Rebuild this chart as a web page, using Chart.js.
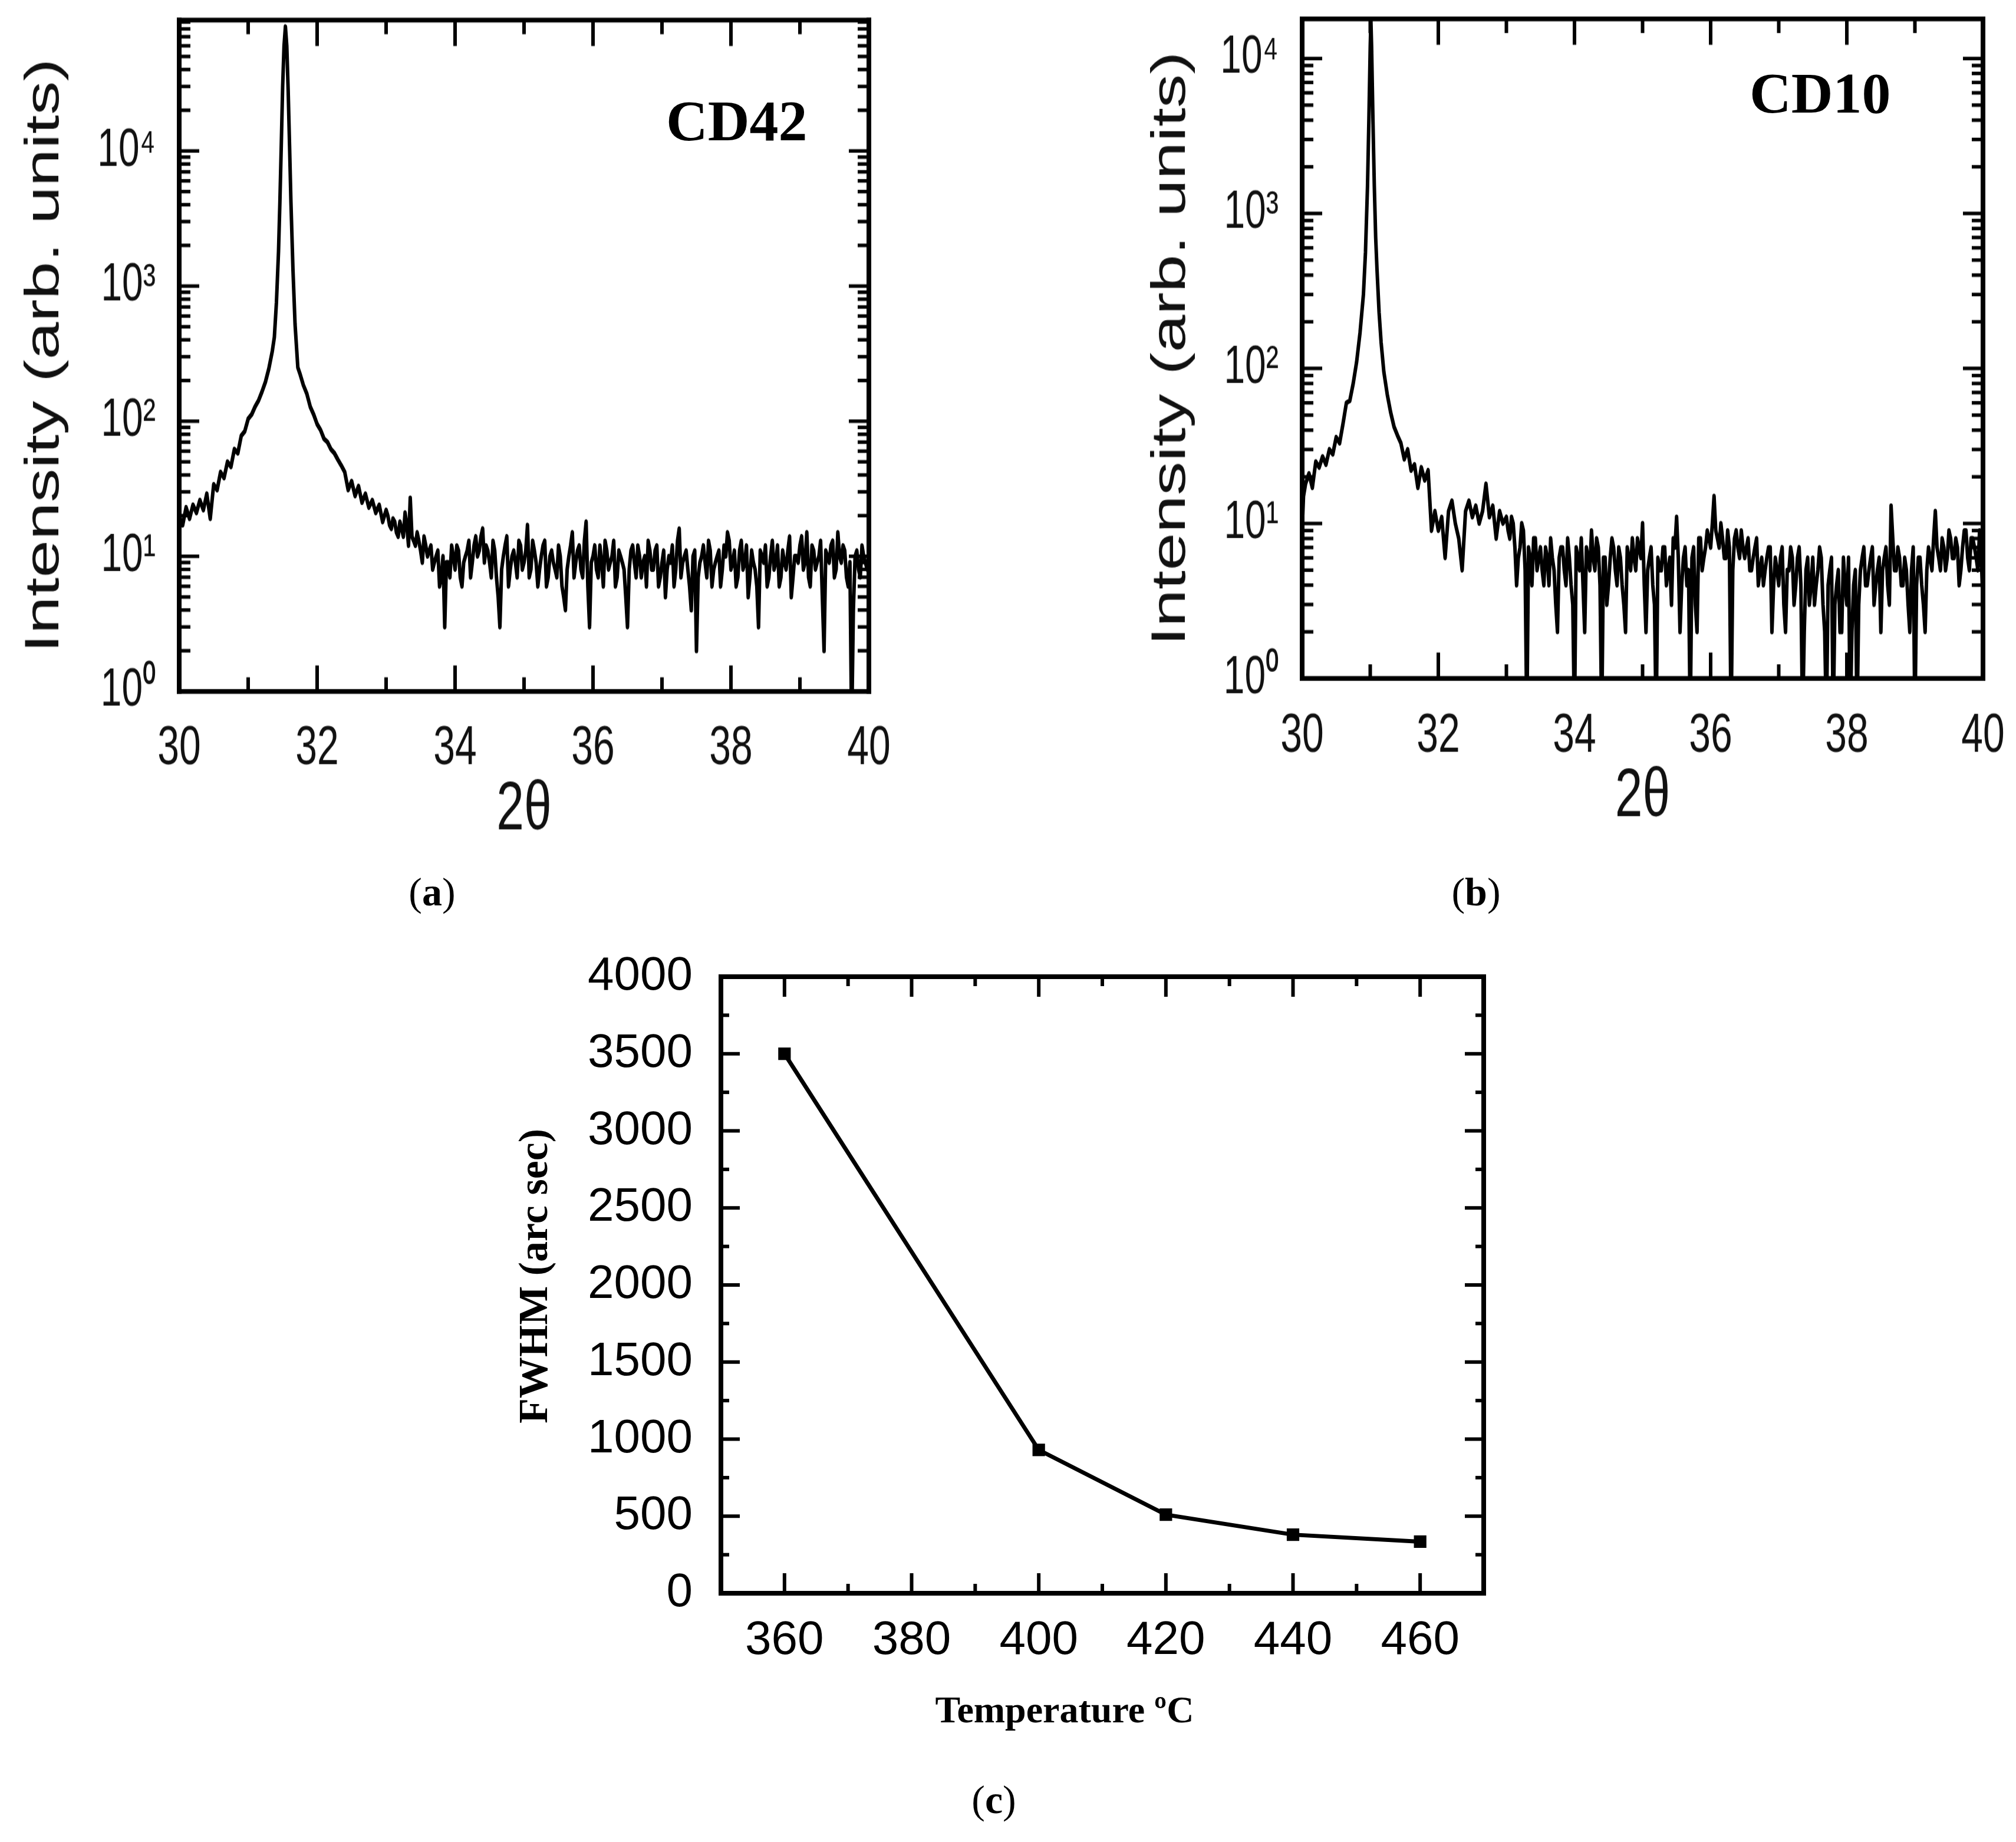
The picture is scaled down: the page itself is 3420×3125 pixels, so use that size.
<!DOCTYPE html>
<html>
<head>
<meta charset="utf-8">
<script src="https://cdn.jsdelivr.net/npm/chart.js@4.4.1/dist/chart.umd.min.js"></script>
<style>
  body { margin: 0; background: #fff; }
  #page { position: relative; width: 3420px; height: 3125px; overflow: hidden; background: #fff; }
  .box { position: absolute; }
  .stretch { position: absolute; transform: scaleY(1.4); transform-origin: 0 0; }
  .tag { position: absolute; font-family: "Liberation Serif", "Times New Roman", serif; font-weight: bold; font-size: 98px; line-height: 98px; color: #000; white-space: nowrap; }
  .cap { position: absolute; width: 200px; text-align: center; font-family: "Liberation Serif", "Times New Roman", serif; font-size: 68px; line-height: 68px; color: #000; }
</style>
</head>
<body>
<div id="page">
  <div class="stretch" style="left:0;top:0"><canvas id="chartA" width="1560" height="1036"></canvas></div>
  <div class="stretch" style="left:1900px;top:0"><canvas id="chartB" width="1520" height="1036"></canvas></div>
  <div class="box" style="left:700px;top:1550px"><canvas id="chartC" width="2000" height="1450"></canvas></div>
  <div class="tag" style="left:1130px;top:156px">CD42</div>
  <div class="tag" style="left:2968px;top:109px">CD10</div>
  <div class="cap" style="left:633px;top:1479px">(<b>a</b>)</div>
  <div class="cap" style="left:2404px;top:1479px">(<b>b</b>)</div>
  <div class="cap" style="left:1586px;top:3019px">(<b>c</b>)</div>
</div>
<script>
// ---- data ----
const twoThetaTicks = [30, 32, 34, 36, 38, 40];
const twoThetaMinor = [31, 33, 35, 37, 39];
const decadeTicks = [1, 10, 100, 1000, 10000];

// (a) CD42
const anglesA = [
  30.00, 30.05, 30.10, 30.15, 30.20, 30.25, 30.30, 30.35, 30.40, 30.45, 30.50, 30.55, 30.60, 30.65, 30.70, 30.75,
  30.80, 30.85, 30.90, 30.95, 31.00, 31.05, 31.10, 31.15, 31.20, 31.25, 31.30, 31.35,
  31.38, 31.41, 31.44, 31.46, 31.48, 31.50, 31.52, 31.54, 31.56, 31.58, 31.60, 31.62, 31.65, 31.68, 31.72,
  31.75, 31.80, 31.85, 31.90, 31.95, 32.00, 32.05, 32.10, 32.15, 32.20, 32.25, 32.30, 32.35, 32.40, 32.45, 32.50,
  32.55, 32.60, 32.65, 32.70, 32.75, 32.80, 32.85, 32.90, 32.95, 33.00, 33.05, 33.10, 33.15, 33.20, 33.25, 33.30,
  33.35, 33.40, 33.45, 33.50, 33.55, 33.60, 33.65, 33.70, 33.75, 33.80, 33.85, 33.90, 33.95, 34.00, 34.05, 34.10,
  34.15, 34.20, 34.25, 34.30, 34.35, 34.40, 34.45, 34.50, 34.55, 34.60, 34.65, 34.70, 34.75, 34.80, 34.85, 34.90,
  34.95, 35.00, 35.05, 35.10, 35.15, 35.20, 35.25, 35.30, 35.35, 35.40, 35.45, 35.50, 35.55, 35.60, 35.65, 35.70,
  35.75, 35.80, 35.85, 35.90, 35.95, 36.00, 36.05, 36.10, 36.15, 36.20, 36.25, 36.30, 36.35, 36.40, 36.45, 36.50,
  36.55, 36.60, 36.65, 36.70, 36.75, 36.80, 36.85, 36.90, 36.95, 37.00, 37.05, 37.10, 37.15, 37.20, 37.25, 37.30,
  37.35, 37.40, 37.45, 37.50, 37.55, 37.60, 37.65, 37.70, 37.75, 37.80, 37.85, 37.90, 37.95, 38.00, 38.05, 38.10,
  38.15, 38.20, 38.25, 38.30, 38.35, 38.40, 38.45, 38.50, 38.55, 38.60, 38.65, 38.70, 38.75, 38.80, 38.85, 38.90,
  38.95, 39.00, 39.05, 39.10, 39.15, 39.20, 39.25, 39.30, 39.35, 39.40, 39.45, 39.50, 39.55, 39.60, 39.65, 39.70,
  39.75, 39.80, 39.85, 39.90, 39.95, 40.00
];
const countsA = [
  20, 17, 23, 19, 24, 21, 26, 22, 29, 19, 34, 31, 42, 38, 50, 46,
  62, 58, 78, 84, 104, 112, 128, 142, 165, 195, 245, 330,
  420, 760, 1800, 4200, 11000, 30000, 60000, 83000, 60000, 28000, 11000, 4200, 1300, 520, 250,
  225, 185, 160, 128, 112, 95, 86, 74, 70, 62, 58, 52, 47, 42, 31, 36,
  28, 33, 25, 29, 23, 26, 21, 24, 18, 22, 17, 19, 15, 18, 14, 17,
  27, 13, 15, 11, 14, 10, 12, 9, 11, 7, 3, 9, 12, 8, 11, 6,
  10, 13, 9, 14, 11, 16, 12, 9, 13, 7, 3, 10, 14, 8, 11, 7,
  12, 9, 17, 8, 11, 6, 10, 13, 7, 11, 8, 12, 6, 4, 10, 15,
  9, 12, 7, 18, 3, 10, 8, 12, 6, 11, 9, 13, 7, 10, 8, 3,
  11, 9, 12, 7, 10, 13, 8, 11, 6, 9, 5, 10, 12, 8, 16, 9,
  11, 6, 10, 2, 9, 12, 7, 11, 8, 10, 6, 12, 15, 8, 11, 7,
  13, 9, 5, 11, 8, 3, 10, 12, 7, 13, 9, 6, 11, 8, 14, 7,
  10, 12, 8, 15, 6, 11, 9, 13, 2, 10, 12, 7, 15, 9, 11, 6,
  0.5, 10, 8, 12, 9, 10
];

// (b) CD10
const anglesB = [
  30.00, 30.02, 30.05, 30.10, 30.15, 30.20, 30.25, 30.30, 30.35, 30.40, 30.45, 30.50, 30.55, 30.60, 30.65, 30.70,
  30.75, 30.80, 30.85, 30.90, 30.93, 30.96, 30.98, 31.00, 31.01, 31.02, 31.04, 31.06, 31.08, 31.10, 31.13, 31.16,
  31.20, 31.25, 31.30, 31.35, 31.40, 31.45, 31.50, 31.55, 31.60, 31.65, 31.70, 31.75, 31.80, 31.85, 31.90, 31.95,
  32.00, 32.05, 32.10, 32.15, 32.20, 32.25, 32.30, 32.35, 32.40, 32.45, 32.50, 32.55, 32.60, 32.65, 32.70, 32.75,
  32.80, 32.85, 32.90, 32.95, 33.00, 33.05, 33.10, 33.15, 33.20, 33.25, 33.30, 33.35, 33.40, 33.45, 33.50, 33.55,
  33.60, 33.65, 33.70, 33.75, 33.80, 33.85, 33.90, 33.95, 34.00, 34.05, 34.10, 34.15, 34.20, 34.25, 34.30, 34.35,
  34.40, 34.45, 34.50, 34.55, 34.60, 34.65, 34.70, 34.75, 34.80, 34.85, 34.90, 34.95, 35.00, 35.05, 35.10, 35.15,
  35.20, 35.25, 35.30, 35.35, 35.40, 35.45, 35.50, 35.55, 35.60, 35.65, 35.70, 35.75, 35.80, 35.85, 35.90, 35.95,
  36.00, 36.05, 36.10, 36.15, 36.20, 36.25, 36.30, 36.35, 36.40, 36.45, 36.50, 36.55, 36.60, 36.65, 36.70, 36.75,
  36.80, 36.85, 36.90, 36.95, 37.00, 37.05, 37.10, 37.15, 37.20, 37.25, 37.30, 37.35, 37.40, 37.45, 37.50, 37.55,
  37.60, 37.65, 37.70, 37.75, 37.80, 37.85, 37.90, 37.95, 38.00, 38.05, 38.10, 38.15, 38.20, 38.25, 38.30, 38.35,
  38.40, 38.45, 38.50, 38.55, 38.60, 38.65, 38.70, 38.75, 38.80, 38.85, 38.90, 38.95, 39.00, 39.05, 39.10, 39.15,
  39.20, 39.25, 39.30, 39.35, 39.40, 39.45, 39.50, 39.55, 39.60, 39.65, 39.70, 39.75, 39.80, 39.85, 39.90, 39.95,
  40.00
];
const countsB = [
  9, 15, 18, 21, 17, 25, 23, 27, 24, 30, 28, 36, 33, 44, 60, 62,
  80, 110, 170, 300, 560, 1500, 4000, 12000, 17500, 12000, 4000, 1500, 700, 430, 230, 147,
  95, 68, 52, 42, 37, 33, 26, 30, 22, 24, 17, 23, 19, 22, 9, 12,
  9, 11, 6, 12, 14, 10, 8, 5, 12, 14, 11, 13, 10, 12, 18, 11,
  13, 8, 12, 10, 11, 8, 10, 4, 7, 9, 0.5, 6, 8, 5, 7, 4,
  6, 8, 5, 2, 7, 5, 8, 4, 0.5, 6, 8, 2, 6, 9, 5, 7,
  0.5, 6, 4, 8, 5, 7, 4, 2, 6, 8, 5, 7, 10, 2, 6, 4,
  0.5, 5, 7, 4, 6, 8, 11, 2, 6, 4, 0.5, 7, 2, 8, 6, 9,
  7, 15, 8, 10, 6, 9, 0.5, 8, 7, 9, 6, 8, 5, 7, 4, 6,
  5, 7, 2, 6, 4, 7, 2, 5, 6, 4, 7, 0.5, 5, 3, 6, 4,
  7, 3, 0.5, 5, 0.5, 4, 2, 6, 3, 0.5, 4, 0.5, 5, 7, 4, 6,
  3, 5, 2, 6, 4, 13, 5, 7, 4, 6, 3, 5, 0.5, 6, 4, 2,
  7, 5, 12, 6, 8, 5, 9, 6, 8, 4, 7, 9, 5, 8, 6, 9,
  3
];

// extra samples in between, on the flat background of both scans
const midAngles = [
  33.025, 33.075, 33.125, 33.175, 33.225, 33.275, 33.325, 33.375, 33.425, 33.475,
  33.525, 33.575, 33.625, 33.675, 33.725, 33.775, 33.825, 33.875, 33.925, 33.975,
  34.025, 34.075, 34.125, 34.175, 34.225, 34.275, 34.325, 34.375, 34.425, 34.475,
  34.525, 34.575, 34.625, 34.675, 34.725, 34.775, 34.825, 34.875, 34.925, 34.975,
  35.025, 35.075, 35.125, 35.175, 35.225, 35.275, 35.325, 35.375, 35.425, 35.475,
  35.525, 35.575, 35.625, 35.675, 35.725, 35.775, 35.825, 35.875, 35.925, 35.975,
  36.025, 36.075, 36.125, 36.175, 36.225, 36.275, 36.325, 36.375, 36.425, 36.475,
  36.525, 36.575, 36.625, 36.675, 36.725, 36.775, 36.825, 36.875, 36.925, 36.975,
  37.025, 37.075, 37.125, 37.175, 37.225, 37.275, 37.325, 37.375, 37.425, 37.475,
  37.525, 37.575, 37.625, 37.675, 37.725, 37.775, 37.825, 37.875, 37.925, 37.975,
  38.025, 38.075, 38.125, 38.175, 38.225, 38.275, 38.325, 38.375, 38.425, 38.475,
  38.525, 38.575, 38.625, 38.675, 38.725, 38.775, 38.825, 38.875, 38.925, 38.975,
  39.025, 39.075, 39.125, 39.175, 39.225, 39.275, 39.325, 39.375, 39.425, 39.475,
  39.525, 39.575, 39.625, 39.675, 39.725, 39.775, 39.825, 39.875, 39.925, 39.975
];
const midCountsA = [
  20, 16, 18, 14, 16, 21, 12, 14, 12, 13,
  9, 12, 11, 8, 10, 6, 10, 9, 7, 10,
  12, 7, 9, 11, 7, 12, 10, 14, 9, 11,
  7, 11, 5, 8, 12, 6, 10, 9, 13, 8,
  11, 7, 13, 9, 8, 12, 6, 10, 9, 7,
  10, 5, 8, 12, 7, 11, 8, 13, 6, 9,
  12, 7, 9, 13, 8, 10, 6, 11, 9, 5,
  8, 12, 7, 10, 9, 6, 11, 8, 12, 7,
  11, 8, 9, 6, 13, 7, 10, 8, 4, 11,
  7, 10, 9, 13, 6, 9, 11, 8, 10, 13,
  9, 6, 11, 8, 12, 7, 9, 6, 11, 9,
  6, 10, 8, 12, 7, 9, 11, 5, 10, 9,
  14, 9, 7, 12, 8, 10, 5, 11, 9, 13,
  8, 10, 12, 7, 9, 4, 11, 7, 10, 8
];
const midCountsB = [
  9, 11, 7, 6, 10, 5, 7, 4, 8, 6,
  5, 7, 4, 6, 3, 6, 7, 4, 6, 3,
  7, 5, 4, 7, 5, 6, 8, 4, 6, 3,
  6, 7, 4, 6, 3, 7, 5, 6, 8, 6,
  4, 5, 7, 3, 6, 5, 7, 5, 3, 7,
  6, 4, 7, 5, 6, 3, 8, 5, 7, 8,
  10, 9, 7, 8, 6, 7, 5, 9, 6, 7,
  7, 5, 6, 8, 5, 4, 6, 7, 4, 5,
  6, 3, 5, 7, 3, 6, 4, 2, 6, 4,
  3, 5, 6, 2, 4, 6, 3, 5, 2, 4,
  6, 2, 5, 3, 6, 4, 5, 7, 4, 6,
  5, 7, 3, 8, 5, 6, 4, 5, 2, 7,
  4, 6, 3, 5, 6, 8, 7, 5, 7, 6,
  8, 6, 7, 5, 9, 6, 8, 7, 5, 6
];

// (c) FWHM vs growth temperature
const temperatures = [360, 400, 420, 440, 460];
const fwhmValues = [3500, 930, 510, 380, 335];
const tempTicks = [360, 380, 400, 420, 440, 460];
const tempMinor = [370, 390, 410, 430, 450];
const fwhmTicks = [0, 500, 1000, 1500, 2000, 2500, 3000, 3500, 4000];
const fwhmMinor = [250, 750, 1250, 1750, 2250, 2750, 3250, 3750];

const K = 1.4; // the top panels are stretched vertically in the source figure
const SANS = '"Liberation Sans", Arial, Helvetica, sans-serif';
const SERIF = '"Liberation Serif", "Times New Roman", serif';
const SUP = ['\u2070', '\u00b9', '\u00b2', '\u00b3', '\u2074', '\u2075'];

// boxed frame with inward ticks on all four sides
const framePlugin = {
  id: 'frame',
  afterDatasetsDraw(chart, args, o) {
    const { ctx, chartArea: a } = chart;
    const x = chart.scales.x, y = chart.scales.y;
    ctx.save();
    ctx.strokeStyle = '#000';
    ctx.lineCap = 'butt';
    const vline = (px, y0, y1, w) => { ctx.lineWidth = w; ctx.beginPath(); ctx.moveTo(px, y0); ctx.lineTo(px, y1); ctx.stroke(); };
    const hline = (py, x0, x1, w) => { ctx.lineWidth = w; ctx.beginPath(); ctx.moveTo(x0, py); ctx.lineTo(x1, py); ctx.stroke(); };
    const xt = (vals, len) => vals.forEach(v => {
      const px = x.getPixelForValue(v);
      vline(px, a.bottom, a.bottom - len, o.tickX);
      vline(px, a.top, a.top + len, o.tickX);
    });
    const yt = (vals, len) => vals.forEach(v => {
      const py = y.getPixelForValue(v);
      hline(py, a.left, a.left + len, o.tickY);
      hline(py, a.right, a.right - len, o.tickY);
    });
    xt(o.xMajor, o.xMajorLen);
    xt(o.xMinor, o.xMinorLen);
    yt(o.yMajor, o.yMajorLen);
    yt(o.yMinor, o.yMinorLen);
    const hw = o.frameV / 2, hh = o.frameH / 2;
    hline(a.top, a.left - hw, a.right + hw, o.frameH);
    hline(a.bottom, a.left - hw, a.right + hw, o.frameH);
    vline(a.left, a.top - hh, a.bottom + hh, o.frameV);
    vline(a.right, a.top - hh, a.bottom + hh, o.frameV);
    ctx.restore();
  }
};

// free text placed relative to the plot area
const captionPlugin = {
  id: 'captions',
  afterDraw(chart, args, o) {
    const { ctx, chartArea: a } = chart;
    (o.items || []).forEach(t => {
      ctx.save();
      ctx.translate((a.left + a.right) / 2 + t.dx, (a.top + a.bottom) / 2 + t.dy);
      ctx.rotate(t.rotation || 0);
      ctx.font = t.font;
      ctx.fillStyle = '#000';
      ctx.textAlign = 'center';
      ctx.textBaseline = 'middle';
      ctx.fillText(t.text, 0, 0);
      ctx.restore();
    });
  }
};

function logMinor(max) {
  const out = [];
  decadeTicks.forEach(d => { for (let m = 2; m <= 9; m++) if (d * m < max) out.push(d * m); });
  return out;
}

function scanPoints(angles, counts, extraAngles, extraCounts) {
  const pts = angles.map((x, i) => ({ x, y: counts[i] }));
  extraAngles.forEach((x, i) => pts.push({ x, y: extraCounts[i] }));
  return pts.sort((p, q) => p.x - q.x);
}

function xrdChart(id, points, g) {
  return new Chart(document.getElementById(id), {
    type: 'line',
    data: {
      datasets: [{
        data: points,
        borderColor: '#000',
        borderWidth: 6,
        borderJoinStyle: 'round',
        pointRadius: 0,
        tension: 0,
        fill: false
      }]
    },
    options: {
      responsive: false,
      animation: false,
      devicePixelRatio: 1,
      layout: { padding: { top: g.top, right: g.right, left: 0, bottom: 0 } },
      plugins: {
        legend: { display: false },
        tooltip: { enabled: false },
        frame: {
          xMajor: twoThetaTicks, xMinor: twoThetaMinor,
          yMajor: decadeTicks, yMinor: logMinor(g.ymax),
          xMajorLen: 44 / K, xMinorLen: 24 / K, yMajorLen: 34, yMinorLen: 19,
          tickX: 6, tickY: 6 / K, frameV: 8, frameH: 8 / K
        }
      },
      scales: {
        x: {
          type: 'linear', min: 30, max: 40,
          afterBuildTicks: s => { s.ticks = twoThetaTicks.map(v => ({ value: v })); },
          afterFit: s => { s.height = g.xh; s.paddingLeft = 0; s.paddingRight = 0; },
          grid: { display: false }, border: { display: false },
          ticks: { font: { family: SANS, size: 66 }, color: '#111', padding: g.xtickPad, maxRotation: 0, autoSkip: false },
          title: { display: true, text: '2\u03b8', font: { family: SANS, size: 84 }, color: '#111', padding: { top: 0, bottom: g.xtitlePad } }
        },
        y: {
          type: 'logarithmic', min: 1, max: g.ymax,
          afterBuildTicks: s => { s.ticks = decadeTicks.map(v => ({ value: v })); },
          afterFit: s => { s.width = g.yw; s.paddingTop = 0; s.paddingBottom = 0; },
          grid: { display: false }, border: { display: false },
          ticks: {
            font: { family: SANS, size: 64 }, color: '#111', padding: 32, autoSkip: false,
            callback: v => '10' + SUP[Math.round(Math.log10(v))]
          },
          title: { display: true, text: 'Intensity (arb. units)', font: { family: SANS, size: 82 }, color: '#111', padding: { top: g.ytitlePad, bottom: 0 } }
        }
      }
    },
    plugins: [framePlugin]
  });
}

xrdChart('chartA', scanPoints(anglesA, countsA, midAngles, midCountsA), {
  top: 34 / K, right: 86, yw: 304, xh: 1036 - 1173 / K, ymax: 93000,
  xtickPad: 22.5, xtitlePad: 4, ytitlePad: 27
});

xrdChart('chartB', scanPoints(anglesB, countsB, midAngles, midCountsB), {
  top: 32 / K, right: 56, yw: 309, xh: 1036 - 1151 / K, ymax: 18000,
  xtickPad: 23, xtitlePad: 20, ytitlePad: 38
});

new Chart(document.getElementById('chartC'), {
  type: 'line',
  data: {
    datasets: [{
      data: temperatures.map((t, i) => ({ x: t, y: fwhmValues[i] })),
      borderColor: '#000',
      borderWidth: 7,
      pointStyle: 'rect',
      pointRadius: 15,
      pointBackgroundColor: '#000',
      pointBorderColor: '#000',
      pointBorderWidth: 0,
      tension: 0,
      fill: false
    }]
  },
  options: {
    responsive: false,
    animation: false,
    devicePixelRatio: 1,
    layout: { padding: { top: 107, right: 183, left: 0, bottom: 0 } },
    plugins: {
      legend: { display: false },
      tooltip: { enabled: false },
      frame: {
        xMajor: tempTicks, xMinor: tempMinor, yMajor: fwhmTicks, yMinor: fwhmMinor,
        xMajorLen: 34, xMinorLen: 16, yMajorLen: 32, yMinorLen: 14,
        tickX: 6, tickY: 6, frameV: 8, frameH: 8
      },
      captions: {
        items: [
          { text: 'FWHM (arc sec)', font: 'bold 70px ' + SERIF, dx: -960, dy: -15, rotation: -Math.PI / 2 },
          { text: 'Temperature \u00baC', font: 'bold 64px ' + SERIF, dx: -64, dy: 725 }
        ]
      }
    },
    scales: {
      x: {
        type: 'linear', min: 350, max: 470,
        afterBuildTicks: s => { s.ticks = tempTicks.map(v => ({ value: v })); },
        afterFit: s => { s.height = 1450 - 1153; s.paddingLeft = 0; s.paddingRight = 0; },
        grid: { display: false }, border: { display: false },
        ticks: { font: { family: SANS, size: 80 }, color: '#000', padding: 25, maxRotation: 0, autoSkip: false, callback: v => String(v) }
      },
      y: {
        type: 'linear', min: 0, max: 4000,
        afterBuildTicks: s => { s.ticks = fwhmTicks.map(v => ({ value: v })); },
        afterFit: s => { s.width = 523; s.paddingTop = 0; s.paddingBottom = 0; },
        grid: { display: false }, border: { display: false },
        ticks: { font: { family: SANS, size: 80 }, color: '#000', padding: 40, autoSkip: false, callback: v => String(v) }
      }
    }
  },
  plugins: [framePlugin, captionPlugin]
});
</script>
</body>
</html>
